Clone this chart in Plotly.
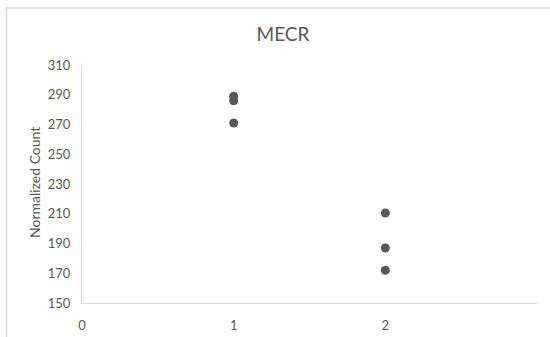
import plotly.graph_objects as go

# Normalized MECR counts per group (three replicates each)
group = [1, 1, 1, 2, 2, 2]
normalized_count = [289, 286, 271, 210.5, 187, 172]

x_ticks = [0, 1, 2]
y_ticks = [150, 170, 190, 210, 230, 250, 270, 290, 310]

W, H = 550, 337
ML, MR, MT, MB = 82, 13, 65, 34
pw, ph = W - ML - MR, H - MT - MB

gray_text = "#595959"
axis_line = "#d9d9d9"
font_family = "Lato, 'Open Sans', sans-serif"

fig = go.Figure()
fig.add_trace(go.Scatter(
    x=group,
    y=normalized_count,
    mode="markers",
    marker=dict(size=9, color="#595959", line=dict(width=0)),
    showlegend=False,
))

fig.update_layout(
    width=W,
    height=H,
    margin=dict(l=ML, r=MR, t=MT, b=MB, autoexpand=False),
    paper_bgcolor="white",
    plot_bgcolor="white",
    font=dict(family=font_family, color=gray_text, size=13),
    title=dict(
        text="MECR",
        x=283 / W,
        xanchor="center",
        y=1 - 34 / H,
        yanchor="middle",
        font=dict(size=19, color=gray_text, family=font_family),
    ),
    xaxis=dict(
        range=[0, 3],
        tickvals=x_ticks,
        ticktext=[str(v) for v in x_ticks],
        showgrid=False,
        zeroline=False,
        showline=True,
        linecolor=axis_line,
        linewidth=1,
        ticks="",
        ticklabelstandoff=10,
        tickfont=dict(size=13, color=gray_text),
        automargin=False,
        fixedrange=True,
    ),
    yaxis=dict(
        range=[150, 310],
        tickvals=y_ticks,
        showgrid=False,
        zeroline=False,
        showline=True,
        linecolor=axis_line,
        linewidth=1,
        ticks="",
        ticklabelstandoff=8,
        tickfont=dict(size=13, color=gray_text),
        automargin=False,
        fixedrange=True,
    ),
    annotations=[
        dict(
            text="Normalized Count",
            xref="paper",
            yref="paper",
            x=(34 - ML) / pw,
            y=(H - MB - 183) / ph,
            xanchor="center",
            yanchor="middle",
            textangle=-90,
            showarrow=False,
            font=dict(size=14, color=gray_text, family=font_family),
        )
    ],
    shapes=[
        dict(
            type="rect",
            xref="paper",
            yref="paper",
            x0=(6.5 - ML) / pw,
            x1=(W + 2 - ML) / pw,
            y0=(H - MB - (H + 2)) / ph,
            y1=(H - MB - 8) / ph,
            line=dict(color=axis_line, width=1.5),
            fillcolor="rgba(0,0,0,0)",
            layer="below",
        )
    ],
)

fig.write_html("out.html")
